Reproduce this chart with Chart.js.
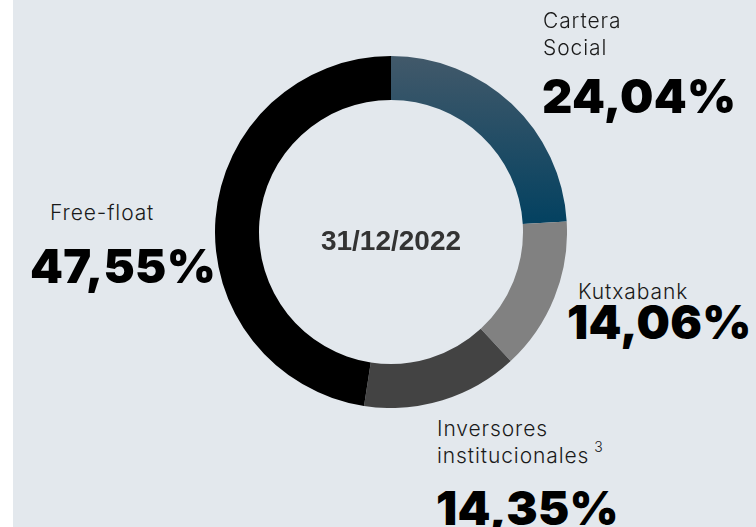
<!DOCTYPE html>
<html>
<head>
<meta charset="utf-8">
<script src="https://cdn.jsdelivr.net/npm/chart.js@4"></script>
<style>
  html, body { margin: 0; padding: 0; background: #fff; }
  #panel { position: absolute; left: 13px; top: 0; width: 743px; height: 527px; background: #e3e8ed; overflow: hidden; }
  #wrap { position: absolute; left: 202px; top: 56px; width: 352px; height: 352px; }
  .lbl { position: absolute; font-family: Inter, sans-serif; font-weight: 300; font-size: 21px; line-height: 27px; letter-spacing: 0.9px; color: #1a1a1a; white-space: nowrap; }
  .pct { position: absolute; font-family: Inter, sans-serif; font-weight: 900; font-size: 47px; line-height: 46px; color: #000; letter-spacing: 0.3px; white-space: nowrap; }
  #center { position: absolute; left: 202px; top: 225px; width: 352px; text-align: center; font-family: "Liberation Sans", Arial, sans-serif; font-weight: bold; font-size: 28px; line-height: 32px; color: #333; }
  sup { font-size: 14px; line-height: 0; position: relative; top: -3px; margin-left: 5px; }
</style>
</head>
<body>
<div id="panel">
  <div id="wrap"><canvas id="myChart"></canvas></div>
  <div id="center"></div>
</div>
<script>
const categories = ['Cartera Social', 'Kutxabank', 'Inversores institucionales', 'Free-float'];
const shares = [24.04, 14.06, 14.35, 47.55];
const dateLabel = '31/12/2022';

// posiciones de los textos (relativas al panel)
const labelSpots = [
  { x: 530, y: 7, pctX: 529, pctY: 73, text: 'Cartera<br>Social' },
  { x: 565, y: 278, pctX: 554, pctY: 299, text: 'Kutxabank' },
  { x: 424, y: 415, pctX: 423, pctY: 485, text: 'Inversores<br>institucionales<sup>3</sup>' },
  { x: 37, y: 199, pctX: 17, pctY: 243, text: 'Free-float' }
];
const sliceColors = ['#818181', '#434343', '#000000'];

function sliceFill(context) {
  const i = context.dataIndex;
  if (i > 0) return sliceColors[i - 1];
  const chart = context.chart;
  const area = chart.chartArea;
  if (!area) return '#0a4560';
  const g = chart.ctx.createLinearGradient(0, area.top, 0, area.top + area.height / 2);
  g.addColorStop(0, '#42596a');
  g.addColorStop(1, '#004060');
  return g;
}

const panel = document.getElementById('panel');
for (let c = 0; c < categories.length; c++) {
  const s = labelSpots[c];
  const l = document.createElement('div');
  l.className = 'lbl';
  l.style.left = s.x + 'px';
  l.style.top = s.y + 'px';
  l.innerHTML = s.text;
  panel.appendChild(l);
  const p = document.createElement('div');
  p.className = 'pct';
  p.style.left = s.pctX + 'px';
  p.style.top = s.pctY + 'px';
  p.textContent = shares[c].toFixed(2).replace('.', ',') + '%';
  panel.appendChild(p);
}
document.getElementById('center').textContent = dateLabel;

const ctx = document.getElementById('myChart');
new Chart(ctx, {
  type: 'doughnut',
  data: {
    labels: categories,
    datasets: [{
      data: shares,
      backgroundColor: sliceFill,
      borderWidth: 0
    }]
  },
  options: {
    responsive: true,
    maintainAspectRatio: false,
    animation: false,
    cutout: '75%',
    plugins: {
      legend: { display: false },
      tooltip: { enabled: false }
    }
  }
});
</script>
</body>
</html>
